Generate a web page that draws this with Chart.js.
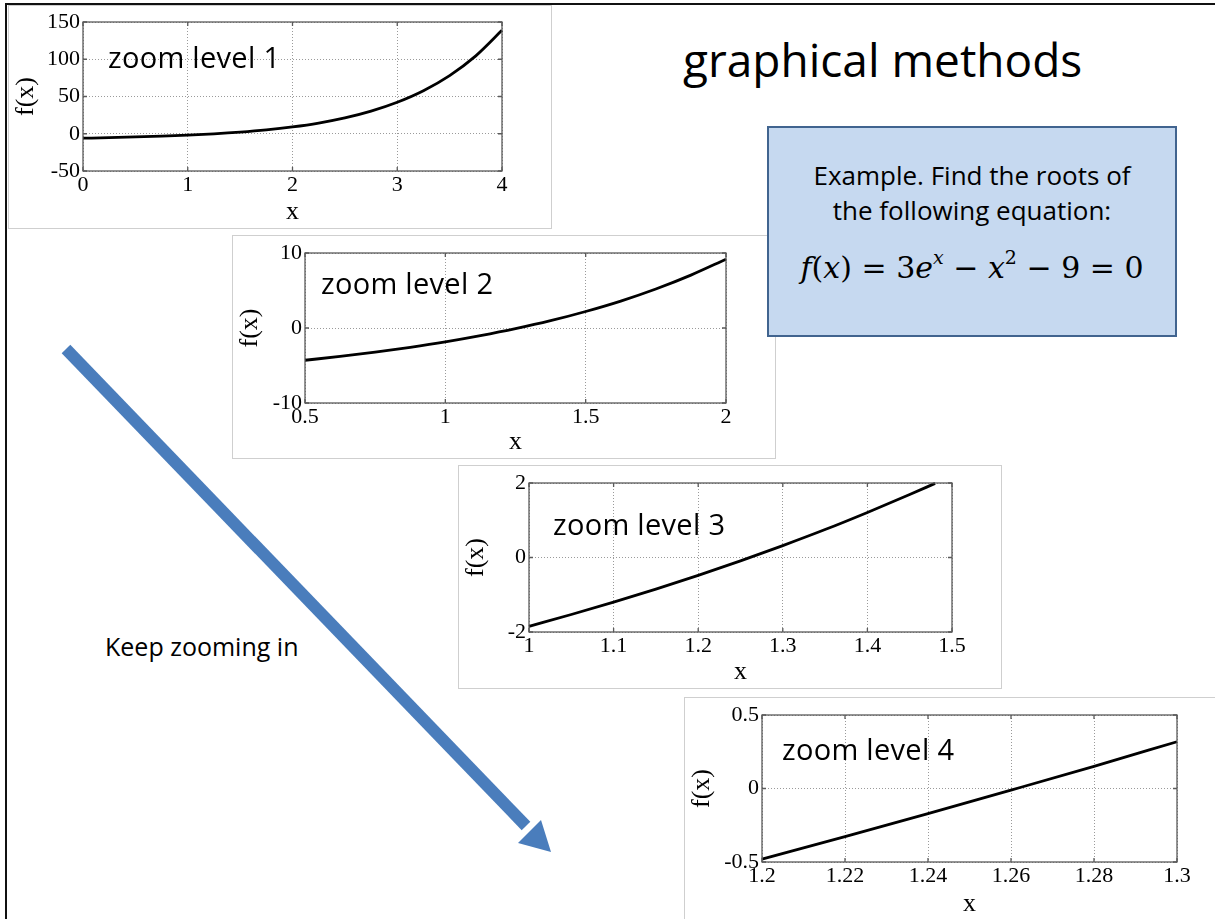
<!DOCTYPE html>
<html>
<head>
<meta charset="utf-8">
<title>graphical methods</title>
<script src="https://cdn.jsdelivr.net/npm/chart.js@4.4.0/dist/chart.umd.min.js"></script>
<style>
  html, body { margin: 0; padding: 0; }
  body {
    width: 1215px; height: 919px; overflow: hidden;
    position: relative; background: #fff;
    font-family: 'Comic Sans MS', 'Open Sans', sans-serif;
  }
  .frame {
    position: absolute; left: 5px; top: 3px; width: 1300px; height: 1000px;
    border: 2px solid #111; box-sizing: border-box;
  }
  .panel {
    position: absolute; width: 544px; height: 224px;
    border: 1px solid #cfcfcf; background: #fff; box-sizing: border-box;
  }
  .panel canvas { position: absolute; left: -1px; top: -1px; }
  .zoom-label {
    position: absolute; font-size: 29px; color: #000; white-space: nowrap;
    line-height: 1; letter-spacing: 0.3px;
  }
  .title {
    position: absolute; left: 683px; top: 36px; font-size: 46px; color: #000;
    white-space: nowrap; line-height: 1;
  }
  .example {
    position: absolute; left: 767px; top: 126px; width: 410px; height: 211px;
    background: #c6d9f0; border: 2px solid #41648f; box-sizing: border-box;
    text-align: center; color: #000; z-index: 5;
  }
  .example .txt { position: absolute; left: 0; right: 0; top: 30px; font-size: 26px; line-height: 35px; }
  .example .eq {
    position: absolute; left: 0; right: 0; top: 125px; font-size: 30px; line-height: 1;
    font-family: 'DejaVu Serif', 'Liberation Serif', serif;
  }
  .example .eq i { font-style: italic; }
  .example .eq sup { font-size: 19px; vertical-align: 14px; line-height: 0; }
  .keep {
    position: absolute; left: 105px; top: 629px; font-size: 25px; color: #000; white-space: nowrap;
  }
  svg.arrow { position: absolute; left: 0; top: 0; }
</style>
</head>
<body>
<div class="frame"></div>

<div class="title">graphical methods</div>

<div class="example">
  <div class="txt">Example. Find the roots of<br>the following equation:</div>
  <div class="eq"><i>f</i>(<i>x</i>) = 3<i>e</i><sup><i>x</i></sup> − <i>x</i><sup>2</sup> − 9 = 0</div>
</div>

<div class="keep">Keep zooming in</div>

<svg class="arrow" width="1215" height="919">
  <line x1="66" y1="349" x2="526" y2="826" stroke="#4a7dbc" stroke-width="12"/>
  <polygon points="551,852 518,843 541,820" fill="#4a7dbc"/>
</svg>

<div class="panel" id="p1" style="left:8px;top:5px;"><canvas id="c1" width="544" height="224"></canvas><div class="zoom-label" style="left:99px;top:36px;">zoom level 1</div></div>
<div class="panel" id="p2" style="left:232px;top:235px;"><canvas id="c2" width="544" height="224"></canvas><div class="zoom-label" style="left:88px;top:32px;">zoom level 2</div></div>
<div class="panel" id="p3" style="left:458px;top:465px;"><canvas id="c3" width="544" height="224"></canvas><div class="zoom-label" style="left:94px;top:43px;">zoom level 3</div></div>
<div class="panel" id="p4" style="left:684px;top:697px;"><canvas id="c4" width="544" height="224"></canvas><div class="zoom-label" style="left:97px;top:36px;">zoom level 4</div></div>

<script>
// f(x) samples, one set per zoom level
const x1 = [0, 0.25, 0.5, 0.75, 1, 1.25, 1.5, 1.75, 2, 2.25, 2.5, 2.75, 3, 3.25, 3.5, 3.75, 4];
const y1 = [-6, -5.2, -4.3, -3.2, -1.85, -0.1, 2.2, 5.2, 9.2, 14.4, 21.3, 30.4, 42.3, 57.8, 78.1, 104.5, 138.8];

const x2 = [0.5, 0.625, 0.75, 0.875, 1, 1.125, 1.25, 1.375, 1.5, 1.625, 1.75, 1.875, 2];
const y2 = [-4.3, -3.79, -3.21, -2.57, -1.85, -1.02, -0.09, 0.97, 2.2, 3.59, 5.2, 7.05, 9.17];

const x3 = [1, 1.05, 1.1, 1.15, 1.2, 1.25, 1.3, 1.35, 1.4, 1.45, 1.48];
const y3 = [-1.85, -1.53, -1.2, -0.85, -0.48, -0.09, 0.32, 0.75, 1.21, 1.69, 1.99];

const x4 = [1.2, 1.22, 1.24, 1.26, 1.28, 1.3];
const y4 = [-0.48, -0.327, -0.171, -0.011, 0.151, 0.318];

// tick values per axis
const xTicks1 = [0, 1, 2, 3, 4];
const yTicks1 = [-50, 0, 50, 100, 150];
const xTicks2 = [0.5, 1, 1.5, 2];
const yTicks2 = [-10, 0, 10];
const xTicks3 = [1, 1.1, 1.2, 1.3, 1.4, 1.5];
const yTicks3 = [-2, 0, 2];
const xTicks4 = [1.2, 1.22, 1.24, 1.26, 1.28, 1.3];
const yTicks4 = [-0.5, 0, 0.5];

// plot box inside each panel: left, top, right, bottom
const panels = [
  { id: 'c1', xs: x1, ys: y1, xt: xTicks1, yt: yTicks1, box: [75, 17, 494, 166] },
  { id: 'c2', xs: x2, ys: y2, xt: xTicks2, yt: yTicks2, box: [73, 18, 494, 168] },
  { id: 'c3', xs: x3, ys: y3, xt: xTicks3, yt: yTicks3, box: [71, 18, 494, 167] },
  { id: 'c4', xs: x4, ys: y4, xt: xTicks4, yt: yTicks4, box: [78, 18, 493, 165] }
];

const tickFont = { family: "'Liberation Serif', 'Times New Roman', serif", size: 22 };
const titleFont = { family: "'Liberation Serif', 'Times New Roman', serif", size: 26 };

// axes box with inward tick marks
const axesBox = {
  id: 'axesBox',
  afterDraw(chart) {
    const { ctx, chartArea: a, scales: { x, y } } = chart;
    ctx.save();
    ctx.strokeStyle = '#5a5a5a';
    ctx.lineWidth = 1.3;
    ctx.strokeRect(a.left, a.top, a.right - a.left, a.bottom - a.top);
    ctx.beginPath();
    x.ticks.forEach(t => {
      const px = x.getPixelForValue(t.value);
      ctx.moveTo(px, a.bottom); ctx.lineTo(px, a.bottom - 4);
      ctx.moveTo(px, a.top); ctx.lineTo(px, a.top + 4);
    });
    y.ticks.forEach(t => {
      const py = y.getPixelForValue(t.value);
      ctx.moveTo(a.left, py); ctx.lineTo(a.left + 4, py);
      ctx.moveTo(a.right, py); ctx.lineTo(a.right - 4, py);
    });
    ctx.stroke();
    ctx.restore();
  }
};

function makeChart(p) {
  const [l, t, r, b] = p.box;
  const W = 544, H = 224;
  const ctx = document.getElementById(p.id).getContext('2d');
  return new Chart(ctx, {
    type: 'scatter',
    data: {
      datasets: [{
        data: p.xs.map((v, i) => ({ x: v, y: p.ys[i] })),
        showLine: true,
        borderColor: '#000',
        borderWidth: 2.8,
        pointRadius: 0,
        cubicInterpolationMode: 'monotone',
        clip: false
      }]
    },
    options: {
      responsive: false,
      animation: false,
      events: [],
      layout: { padding: { left: 0, top: t, right: W - r, bottom: 0 } },
      plugins: { legend: { display: false }, tooltip: { enabled: false } },
      scales: {
        x: {
          type: 'linear',
          min: p.xt[0],
          max: p.xt[p.xt.length - 1],
          afterBuildTicks: s => { s.ticks = p.xt.map(v => ({ value: v })); },
          afterFit: s => { s.height = H - b; },
          grid: { color: '#9a9a9a', lineWidth: 1, drawTicks: false },
          border: { display: false, dash: [1, 2] },
          ticks: {
            color: '#000', font: tickFont, padding: 1, maxRotation: 0,
            autoSkip: false, callback: v => String(v)
          },
          title: { display: true, text: 'x', color: '#000', font: titleFont, padding: { top: 0, bottom: 1 } }
        },
        y: {
          type: 'linear',
          min: p.yt[0],
          max: p.yt[p.yt.length - 1],
          afterBuildTicks: s => { s.ticks = p.yt.map(v => ({ value: v })); },
          afterFit: s => { s.width = l; },
          grid: { color: '#9a9a9a', lineWidth: 1, drawTicks: false },
          border: { display: false, dash: [1, 2] },
          ticks: {
            color: '#000', font: tickFont, padding: 3,
            autoSkip: false, callback: v => String(v)
          },
          title: { display: true, text: 'f(x)', color: '#000', font: titleFont, padding: { top: 3, bottom: 0 } }
        }
      }
    },
    plugins: [axesBox]
  });
}

panels.forEach(makeChart);
</script>
</body>
</html>
